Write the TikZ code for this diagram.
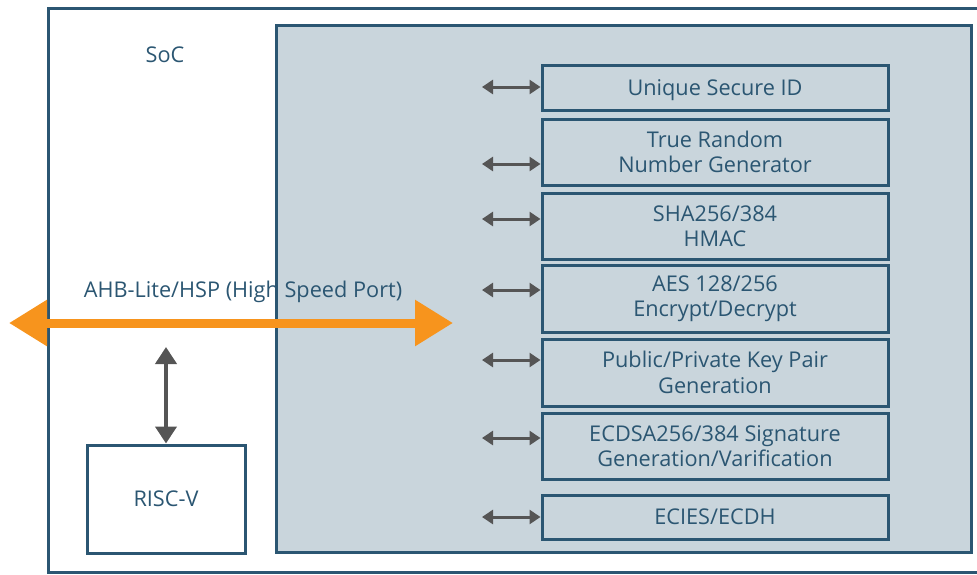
\documentclass[tikz,border=0pt]{standalone}
\usepackage{fontspec}
\setmainfont{Open Sans}
\usetikzlibrary{arrows.meta}
\definecolor{navy}{HTML}{2B5672}
\definecolor{secfill}{HTML}{C9D5DC}
\definecolor{linkgray}{HTML}{555555}
\definecolor{busorange}{HTML}{F7941D}
\tikzset{
  txt/.style={font=\fontsize{21.7}{25.5}\selectfont, text=navy, align=center},
  blk/.style={txt, draw=navy, line width=3pt, minimum width=346pt, inner sep=0pt},
  link/.style={draw=linkgray, line width=3pt, {Triangle[length=11pt,width=14pt]}-{Triangle[length=11pt,width=14pt]}},
  vlink/.style={draw=linkgray, line width=4pt, {Triangle[length=17pt,width=21pt]}-{Triangle[length=17pt,width=21pt]}},
  bus/.style={draw=busorange, line width=9pt, {Triangle[length=38pt,width=44pt]}-{Triangle[length=38pt,width=44pt]}},
}
\begin{document}
\begin{tikzpicture}[x=1pt,y=-1pt]
\useasboundingbox (0,0) rectangle (977,574);
% SoC outline (its right side lies beyond the page)
\draw[navy, line width=3pt] (48,8) rectangle (1000,572);
\node[txt] (soc) at (165,55) {SoC};
% security subsystem
\node[fill=secfill, outer sep=0pt, inner sep=0pt, minimum width=695pt, minimum height=527pt] (sec) at (623.5,288.5) {};
\node[txt] (buslabel) at (243,292) {AHB-Lite/HSP (High Speed Port)};
\draw[navy, line width=3pt] (sec.south west) rectangle (sec.north east);
% crypto blocks
\node[blk, minimum height=45pt] (b1) at (715,87.5) {\raisebox{-2.5pt}[\height][\depth]{Unique Secure ID}};
\node[blk, minimum height=66pt] (b2) at (715,152) {True Random\\Number Generator};
\node[blk, minimum height=66pt] (b3) at (715,226) {SHA256/384\\HMAC};
\node[blk, minimum height=67pt] (b4) at (715,298.5) {AES 128/256\\Encrypt/Decrypt};
\node[blk, minimum height=67pt] (b5) at (715,372.5) {Public/Private Key Pair\\Generation};
\node[blk, minimum height=66pt] (b6) at (715,446) {ECDSA256/384 Signature\\Generation/Varification};
\node[blk, minimum height=44pt] (b7) at (715,517) {ECIES/ECDH};
% block interfaces
\coordinate (a1) at (482,87);
\coordinate (a2) at (482,164);
\coordinate (a3) at (482,219);
\coordinate (a4) at (482,290);
\coordinate (a5) at (482,360);
\coordinate (a6) at (482,438);
\coordinate (a7) at (482,517);
\foreach \i in {1,...,7} \draw[link] (a\i) -- (a\i -| b\i.west);
% processor
\node[txt, draw=navy, line width=3pt, minimum width=158pt, minimum height=108pt] (cpu) at (166,499) {RISC-V};
\coordinate (cpubus) at (166,347);
\draw[vlink] (cpubus) -- (cpu.north);
% system bus
\coordinate (busL) at (9,323);
\coordinate (busR) at (453,323);
\draw[bus] (busL) -- (busR);
\end{tikzpicture}
\end{document}
